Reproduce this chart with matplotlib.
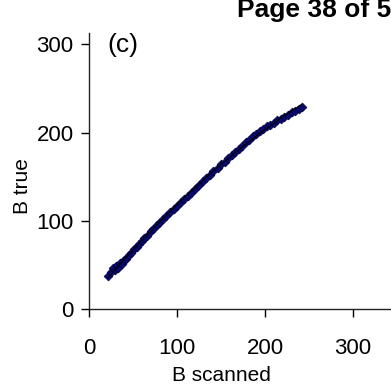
import numpy as np
import matplotlib.pyplot as plt

plt.rcParams['font.family'] = ['Liberation Sans', 'DejaVu Sans']

# scanned vs. true B values
b_scanned = [22, 25, 27, 29, 31, 33, 35, 37, 40, 42, 45, 48, 51, 54, 57, 60,
             63, 66, 70, 73, 77, 80, 84, 88, 92, 96, 100, 104, 108, 112, 116,
             120, 125, 129, 133, 137, 141, 146, 150, 154, 158, 162, 166, 170,
             174, 178, 182, 186, 190, 194, 198, 202, 206, 210, 214, 218, 222,
             226, 230, 234, 238, 242]
b_true = [37, 42, 46, 44, 49, 47, 52, 51, 56, 57, 61, 64, 68, 70, 74, 77,
          80, 83, 88, 91, 95, 98, 102, 106, 110, 113, 117, 121, 125, 128, 132,
          136, 141, 145, 149, 152, 156, 160, 164, 167, 171, 175, 178, 182,
          185, 189, 192, 196, 199, 202, 204, 207, 209, 211, 214, 216, 218,
          220, 223, 225, 227, 229]
x_ticks = [0, 100, 200, 300]
y_ticks = [0, 100, 200, 300]

fig = plt.figure(figsize=(3.91, 3.88), dpi=100)
ax = fig.add_axes([89 / 391, 79 / 388, 1 - 89 / 391, 276 / 388])

# quadratic trend line under the points
coef = np.polyfit(b_scanned, b_true, 2)
xs = np.linspace(min(b_scanned), max(b_scanned), 100)
ax.scatter(b_scanned, b_true, marker='D', s=20, color='#0a0a6e',
           edgecolors='#000040', linewidths=0.5, zorder=2)
ax.plot(xs, np.polyval(coef, xs), color='black', lw=0.8, zorder=3)

ax.set_xlim(0, 343)
ax.set_ylim(0, 313)
ax.set_xticks(x_ticks)
ax.set_yticks(y_ticks)
ax.tick_params(direction='out', length=6, width=1, labelsize=16,
               colors='black', pad=5)
ax.tick_params(axis='x', pad=15)
for side in ['top', 'right']:
    ax.spines[side].set_visible(False)
for side in ['left', 'bottom']:
    ax.spines[side].set_linewidth(1.0)
    ax.spines[side].set_color('#222222')

ax.set_xlabel('B scanned', fontsize=15)
ax.xaxis.set_label_coords((221 - 89) / 302, -0.205)
ax.set_ylabel('B true', fontsize=15)
ax.yaxis.set_label_coords(-0.19, 0.445)
ax.text(0.06, 1.0, '(c)', transform=ax.transAxes, fontsize=19,
        ha='left', va='top')
fig.text(237 / 391, 1.005, 'Page 38 of 53', fontsize=19, fontweight='bold',
         ha='left', va='top')

fig.savefig('out.png', dpi=100)
